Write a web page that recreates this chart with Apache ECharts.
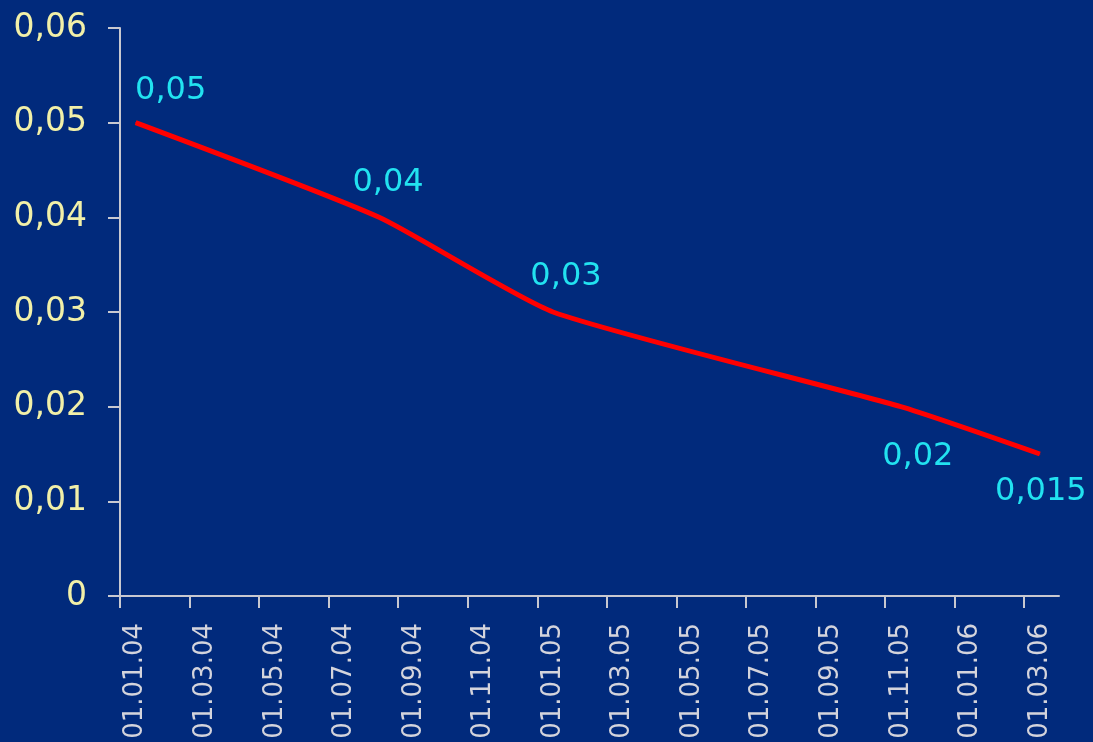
<!DOCTYPE html>
<html>
<head>
<meta charset="utf-8">
<script src="https://cdn.jsdelivr.net/npm/echarts@6/dist/echarts.min.js"></script>
<style>
html,body{margin:0;padding:0;background:#012a7c;}
#chart{width:1093px;height:742px;}
</style>
</head>
<body>
<div id="chart"></div>
<script>
// Tick labels of the date axis (every 2 months, month bands)
var tickLabels = ['01.01.04','01.03.04','01.05.04','01.07.04','01.09.04','01.11.04',
                  '01.01.05','01.03.05','01.05.05','01.07.05','01.09.05','01.11.05',
                  '01.01.06','01.03.06'];
// Data points: month of observation and value
var pointMonths = ['2004-01','2004-08','2005-01','2005-11','2006-03'];
var pointValues = [0.05, 0.04, 0.03, 0.02, 0.015];
var pointLabels = ['0,05','0,04','0,03','0,02','0,015'];
var yTicks = [0, 0.01, 0.02, 0.03, 0.04, 0.05, 0.06];

// style: label offsets (px) relative to each point
var labelOffsets = [[35,-32],[9,-35],[13,-35],[17,50],[1,38]];

var startYear = 2004, startMonth = 1, totalMonths = 27;
function monthIndex(s){
  var p = s.split('-');
  return (parseInt(p[0],10)-startYear)*12 + (parseInt(p[1],10)-startMonth);
}

var seriesData = pointMonths.map(function(m,i){
  return {
    value: [monthIndex(m)+0.45, pointValues[i]],
    label: {offset: labelOffsets[i], formatter: pointLabels[i]}
  };
});

var tickValues = tickLabels.map(function(_,i){return i*2;});
var labelValues = tickLabels.map(function(_,i){return i*2+0.45;});

var font = 'DejaVu Sans';
var chart = echarts.init(document.getElementById('chart'));
chart.setOption({
  backgroundColor: '#012a7c',
  animation: false,
  grid: {left: 120, right: 34, top: 28, bottom: 146, containLabel: false},
  xAxis: {
    type: 'value',
    min: 0,
    max: totalMonths,
    splitLine: {show: false},
    axisLine: {show: true, lineStyle: {color: '#c8c8d0', width: 2}},
    axisTick: {show: true, length: 12, lineStyle: {color: '#c8c8d0', width: 2}, customValues: tickValues},
    axisLabel: {
      show: true,
      customValues: labelValues,
      rotate: 90,
      margin: 27,
      color: '#d4d4dc',
      fontFamily: font,
      fontSize: 26,
      formatter: function(v){
        var idx = Math.round((v-0.45)/2);
        return tickLabels[idx] || '';
      }
    }
  },
  yAxis: {
    type: 'value',
    min: 0,
    max: 0.06,
    interval: 0.01,
    splitLine: {show: false},
    axisLine: {show: true, lineStyle: {color: '#c8c8d0', width: 2}},
    axisTick: {show: true, length: 12, lineStyle: {color: '#c8c8d0', width: 2}},
    axisLabel: {
      margin: 33,
      color: '#f2f0a8',
      fontFamily: font,
      fontSize: 33,
      formatter: function(v){
        var idx = yTicks.findIndex(function(t){return Math.abs(t-v)<1e-9;});
        return String(idx>=0 ? yTicks[idx] : v).replace('.', ',');
      }
    }
  },
  series: [{
    type: 'line',
    data: seriesData,
    smooth: 0.18,
    symbol: 'circle',
    symbolSize: 1,
    itemStyle: {color: '#ff0000'},
    lineStyle: {color: '#ff0000', width: 5},
    label: {
      show: true,
      position: 'inside',
      align: 'center',
      verticalAlign: 'middle',
      color: '#22e2f0',
      fontFamily: font,
      fontSize: 32
    }
  }]
});
</script>
</body>
</html>
